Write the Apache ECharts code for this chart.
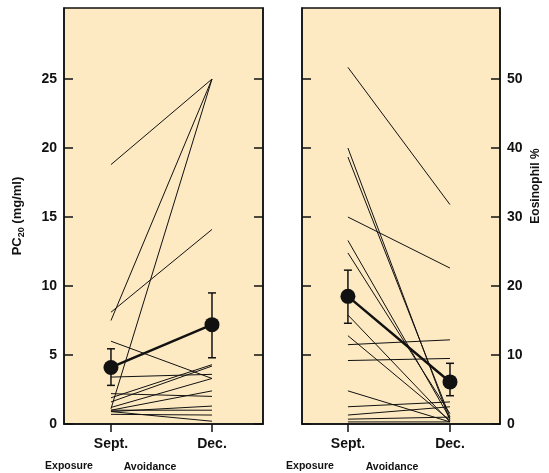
<!DOCTYPE html>
<html>
<head>
<meta charset="utf-8">
<script src="https://cdn.jsdelivr.net/npm/echarts@6/dist/echarts.min.js"></script>
<style>
  html, body { margin: 0; padding: 0; background: #fff; }
  #chart { width: 549px; height: 473px; }
</style>
</head>
<body>
<div id="chart"></div>
<script>
// Month labels on the x axis
const months = ['Sept.', 'Dec.'];

// Left panel: PC20 (mg/ml), one line per subject
const leftSept = [18.8, 7.5, 1.1, 8.1, 6.0, 3.4, 1.9, 1.6, 2.2, 1.0, 0.9, 1.0, 0.7, 0.9, 1.2];
const leftDec  = [25.0, 25.0, 25.0, 14.1, 3.3, 3.6, 4.3, 4.2, 2.0, 2.4, 1.3, 1.0, 0.65, 0.2, 3.3];
const leftMean = [4.1, 7.2];
const leftErrLow = [2.8, 4.8];
const leftErrHigh = [5.45, 9.5];
const leftTicks = [0, 5, 10, 15, 20, 25];

// Right panel: Eosinophil %
const rightSept = [51.7, 40.0, 38.7, 30.0, 26.6, 24.8, 15.8, 12.8, 11.5, 9.2, 4.8, 2.5, 1.3, 0.7, 0.3];
const rightDec  = [31.8, 0.5, 1.0, 22.6, 0.8, 1.5, 0.3, 0.5, 12.2, 9.5, 0.3, 3.2, 2.5, 1.0, 0.3];
const rightMean = [18.5, 6.1];
const rightErrLow = [14.6, 4.1];
const rightErrHigh = [22.3, 8.8];
const rightTicks = [0, 10, 20, 30, 40, 50];

const FONT = '"Liberation Sans", Arial, sans-serif';
const BG = '#FDEAC2';
const INK = '#111';

const chart = echarts.init(document.getElementById('chart'), null, { renderer: 'canvas' });

function xAxisFor(gridIndex, min, max) {
  return {
    type: 'value', gridIndex, min, max,
    axisLine: { show: true, onZero: false, lineStyle: { color: INK, width: 1.5 } },
    axisTick: { show: true, customValues: [0, 1], inside: false, length: 8, lineStyle: { color: INK, width: 1.5 } },
    axisLabel: {
      customValues: [0, 1], formatter: v => months[Math.round(v)],
      color: INK, fontFamily: FONT, fontWeight: 'bold', fontSize: 14, margin: 13
    },
    splitLine: { show: false }
  };
}

function yAxisFor(gridIndex, position, max, ticks, showLabels) {
  return {
    type: 'value', gridIndex, position, min: 0, max,
    axisLine: { show: true, onZero: false, lineStyle: { color: INK, width: 1.5 } },
    axisTick: { show: true, inside: true, length: 9, customValues: ticks, lineStyle: { color: INK, width: 1.5 } },
    axisLabel: {
      show: showLabels, customValues: ticks,
      color: INK, fontFamily: FONT, fontWeight: 'bold', fontSize: 14, margin: 7
    },
    splitLine: { show: false }
  };
}

function subjectSeries(sept, dec, xi, yi) {
  return sept.map((s, i) => ({
    type: 'line', xAxisIndex: xi, yAxisIndex: yi,
    data: [[0, s], [1, dec[i]]],
    symbol: 'none', silent: true,
    lineStyle: { color: INK, width: 1 },
    z: 2
  }));
}

function meanSeries(mean, lo, hi, xi, yi) {
  return [
    {
      type: 'custom', xAxisIndex: xi, yAxisIndex: yi, z: 4,
      data: mean.map((m, i) => [i, lo[i], hi[i]]),
      renderItem: (params, api) => {
        const a = api.coord([api.value(0), api.value(1)]);
        const b = api.coord([api.value(0), api.value(2)]);
        const st = { stroke: INK, lineWidth: 1.5 };
        return {
          type: 'group',
          children: [
            { type: 'line', shape: { x1: a[0], y1: a[1], x2: b[0], y2: b[1] }, style: st },
            { type: 'line', shape: { x1: a[0] - 4, y1: a[1], x2: a[0] + 4, y2: a[1] }, style: st },
            { type: 'line', shape: { x1: b[0] - 4, y1: b[1], x2: b[0] + 4, y2: b[1] }, style: st }
          ]
        };
      }
    },
    {
      type: 'line', xAxisIndex: xi, yAxisIndex: yi, z: 5,
      data: mean.map((m, i) => [i, m]),
      symbol: 'circle', symbolSize: 15,
      itemStyle: { color: INK },
      lineStyle: { color: INK, width: 2.5 }
    }
  ];
}

const option = {
  backgroundColor: '#fff',
  animation: false,
  grid: [
    { left: 64, top: 8, width: 199, height: 416, show: true, backgroundColor: BG, borderColor: INK, borderWidth: 1.5 },
    { left: 302, top: 8, width: 198, height: 416, show: true, backgroundColor: BG, borderColor: INK, borderWidth: 1.5 }
  ],
  xAxis: [
    xAxisFor(0, -0.465, 1.505),
    xAxisFor(1, -0.45, 1.49)
  ],
  yAxis: [
    Object.assign(yAxisFor(0, 'left', 30.15, leftTicks, true), {
      name: '{a|PC}{b|20}{a| (mg/ml)}',
      nameLocation: 'middle', nameRotate: 90, nameGap: 38,
      nameTextStyle: {
        rich: {
          a: { fontFamily: FONT, fontWeight: 'bold', fontSize: 13, color: INK, lineHeight: 18, verticalAlign: 'middle' },
          b: { fontFamily: FONT, fontWeight: 'bold', fontSize: 9, color: INK, lineHeight: 18, verticalAlign: 'bottom', padding: [9, 0, 0, 0] }
        }
      }
    }),
    yAxisFor(0, 'right', 30.15, leftTicks, false),
    yAxisFor(1, 'left', 60.3, rightTicks, false),
    yAxisFor(1, 'right', 60.3, rightTicks, true)
  ],
  graphic: [
    { type: 'text', x: 536, y: 186, rotation: Math.PI / 2,
      style: { text: 'Eosinophil %', fontFamily: FONT, fontWeight: 'bold', fontSize: 12, fill: INK, align: 'center', verticalAlign: 'middle' } },
    { type: 'text', x: 69, y: 466, style: { text: 'Exposure', fontFamily: FONT, fontWeight: 'bold', fontSize: 10.5, fill: INK, align: 'center', verticalAlign: 'middle' } },
    { type: 'text', x: 150, y: 467, style: { text: 'Avoidance', fontFamily: FONT, fontWeight: 'bold', fontSize: 10.5, fill: INK, align: 'center', verticalAlign: 'middle' } },
    { type: 'text', x: 310, y: 466, style: { text: 'Exposure', fontFamily: FONT, fontWeight: 'bold', fontSize: 10.5, fill: INK, align: 'center', verticalAlign: 'middle' } },
    { type: 'text', x: 392, y: 467, style: { text: 'Avoidance', fontFamily: FONT, fontWeight: 'bold', fontSize: 10.5, fill: INK, align: 'center', verticalAlign: 'middle' } }
  ],
  series: [
    ...subjectSeries(leftSept, leftDec, 0, 0),
    ...meanSeries(leftMean, leftErrLow, leftErrHigh, 0, 0),
    ...subjectSeries(rightSept, rightDec, 1, 2),
    ...meanSeries(rightMean, rightErrLow, rightErrHigh, 1, 2)
  ]
};

chart.setOption(option);
</script>
</body>
</html>
